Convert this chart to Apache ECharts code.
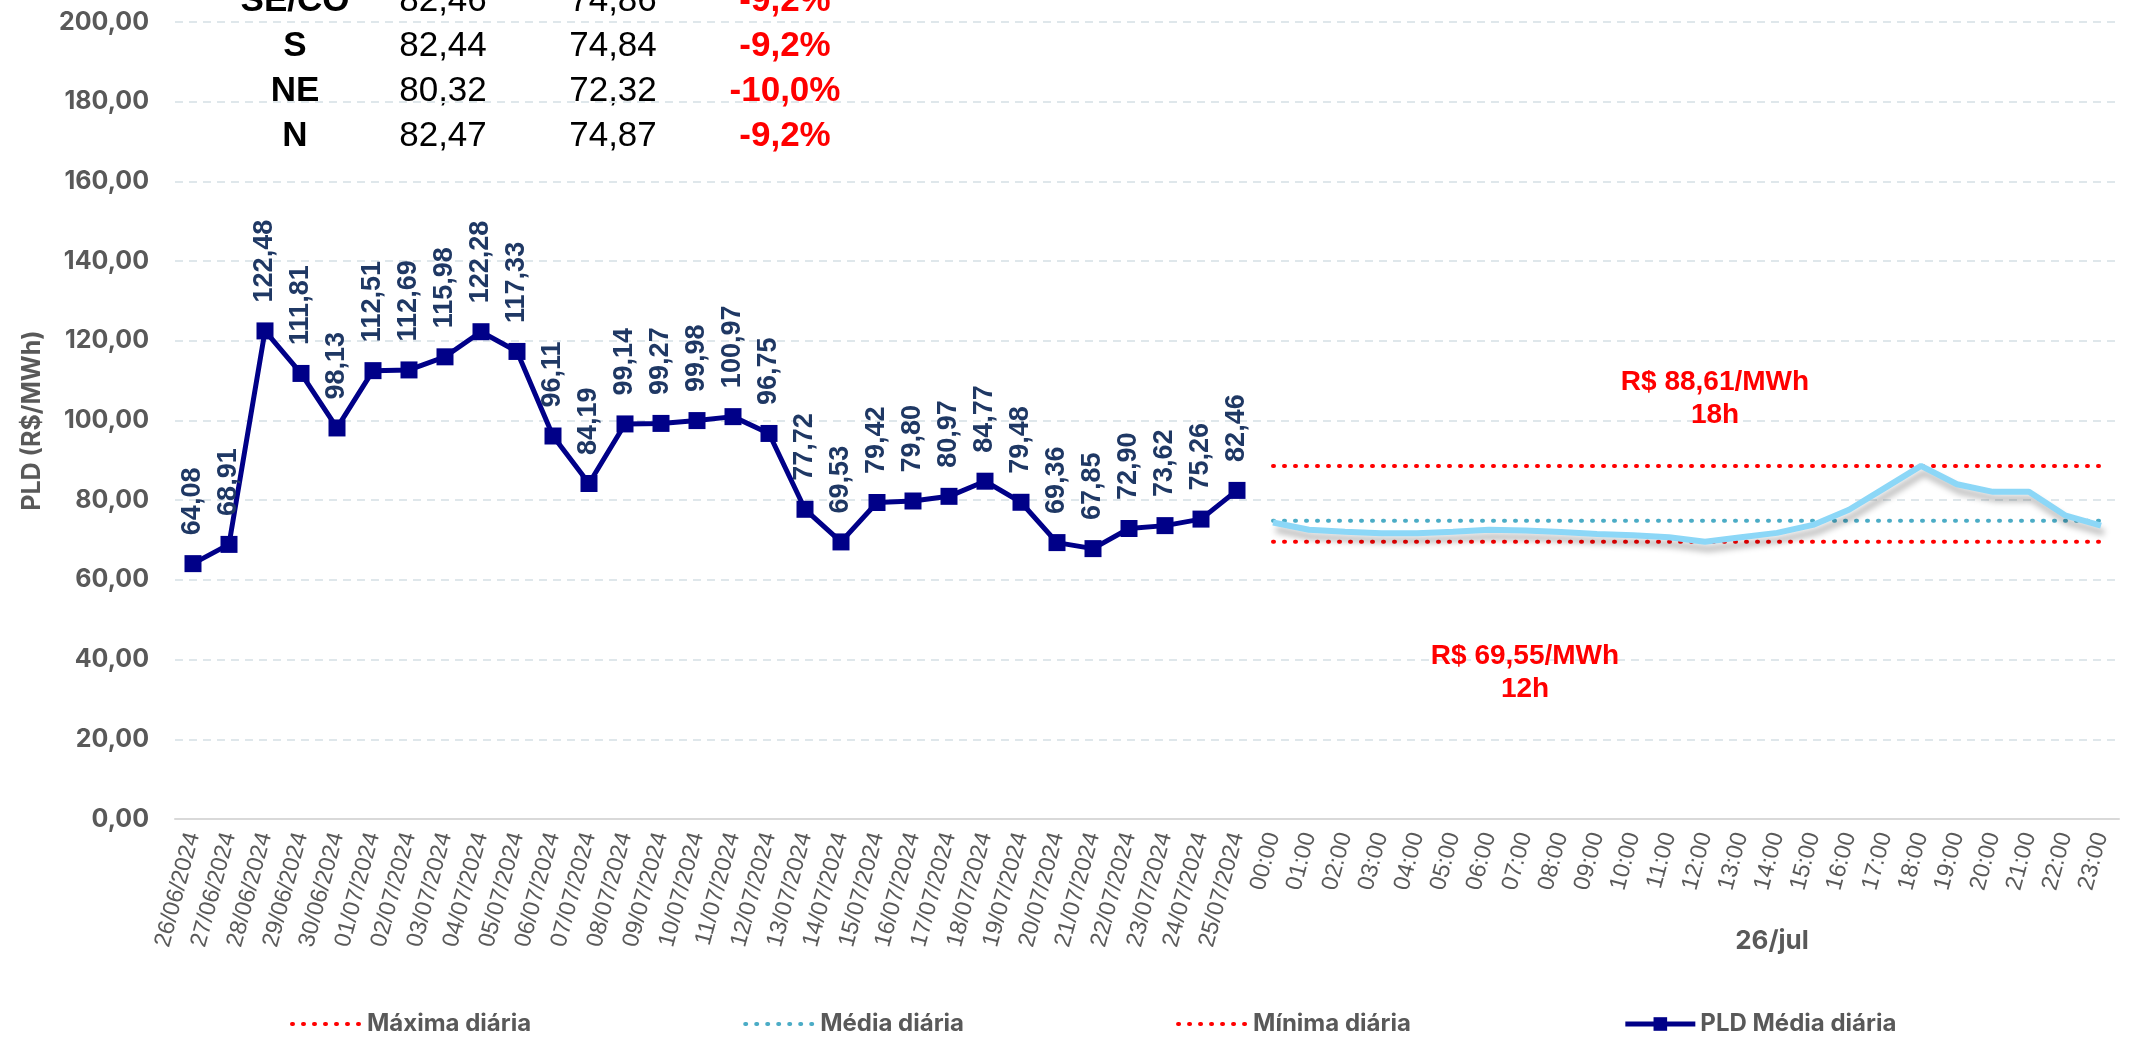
<!DOCTYPE html>
<html>
<head>
<meta charset="utf-8">
<script src="https://cdn.jsdelivr.net/npm/echarts@6/dist/echarts.min.js"></script>
<style>
  html, body { margin: 0; padding: 0; background: #fff; }
  #chart { width: 2129px; height: 1043px; }
</style>
</head>
<body>
<div id="chart"></div>
<script>
const dates = ['26/06/2024', '27/06/2024', '28/06/2024', '29/06/2024', '30/06/2024',
  '01/07/2024', '02/07/2024', '03/07/2024', '04/07/2024', '05/07/2024', '06/07/2024',
  '07/07/2024', '08/07/2024', '09/07/2024', '10/07/2024', '11/07/2024', '12/07/2024',
  '13/07/2024', '14/07/2024', '15/07/2024', '16/07/2024', '17/07/2024', '18/07/2024',
  '19/07/2024', '20/07/2024', '21/07/2024', '22/07/2024', '23/07/2024', '24/07/2024',
  '25/07/2024']
const hours = ['00:00', '01:00', '02:00', '03:00', '04:00', '05:00', '06:00', '07:00',
  '08:00', '09:00', '10:00', '11:00', '12:00', '13:00', '14:00', '15:00', '16:00',
  '17:00', '18:00', '19:00', '20:00', '21:00', '22:00', '23:00']

const pldDaily = [64.08, 68.91, 122.48, 111.81, 98.13, 112.51, 112.69, 115.98, 122.28, 117.33,
  96.11, 84.19, 99.14, 99.27, 99.98, 100.97, 96.75, 77.72, 69.53, 79.42, 79.80, 80.97,
  84.77, 79.48, 69.36, 67.85, 72.90, 73.62, 75.26, 82.46]
const pldHourly = [74.4, 72.6, 72.1, 71.7, 71.7, 72.1, 72.6, 72.4, 72.0, 71.5, 71.2, 70.7,
  69.55, 70.7, 71.8, 73.8, 77.6, 83.1, 88.61, 84.0, 82.1, 82.1, 76.2, 73.6]
const maxDaily = 88.61
const avgDaily = 74.86
const minDaily = 69.55
const maxHour = '18h'
const minHour = '12h'

// tabela de submercados (ontem / hoje / variação)
const regions = ['SE/CO', 'S', 'NE', 'N']
const prevValues = ['82,46', '82,44', '80,32', '82,47']
const currValues = ['74,86', '74,84', '72,32', '74,87']
const changes = ['-9,2%', '-9,2%', '-10,0%', '-9,2%']

const yTicks = { min: 0, max: 200, interval: 20 }

const fmt = v => v.toFixed(2).replace('.', ',')
const blanks = n => new Array(n).fill(null)
const onHours = v => blanks(dates.length).concat(hours.map(() => v))

const gray = '#595959'
const dotted = (color) => ({ color: color, width: 4, type: [1, 10], cap: 'round' })

let chart = echarts.init(document.getElementById('chart'))

let tableTexts = []
regions.forEach((r, i) => {
  const y = 1 + i * 45
  const base = { fontFamily: 'Liberation Sans, Arial', fontSize: 35, align: 'center', verticalAlign: 'middle' }
  tableTexts.push({ type: 'text', x: 295, y: y, style: Object.assign({}, base, { text: r, fontWeight: 'bold', fill: '#000' }) })
  tableTexts.push({ type: 'text', x: 443, y: y, style: Object.assign({}, base, { text: prevValues[i], fill: '#000' }) })
  tableTexts.push({ type: 'text', x: 613, y: y, style: Object.assign({}, base, { text: currValues[i], fill: '#000' }) })
  tableTexts.push({ type: 'text', x: 785, y: y, style: Object.assign({}, base, { text: changes[i], fontWeight: 'bold', fill: '#ff0000' }) })
})

let option = {
  animation: false,
  backgroundColor: '#fff',
  grid: { left: 175, right: 10, top: 22, bottom: 224 },
  legend: {
    data: ['Máxima diária', 'Média diária', 'Mínima diária', 'PLD Média diária'],
    left: 285,
    bottom: 2,
    itemWidth: 70,
    itemHeight: 17,
    itemGap: 212,
    lineStyle: { width: 'inherit' },
    textStyle: { fontFamily: 'Inter', fontSize: 24, fontWeight: 'bold', color: gray }
  },
  xAxis: {
    type: 'category',
    data: dates.concat(hours),
    axisLine: { lineStyle: { color: '#d9d9d9', width: 2 } },
    axisTick: { show: false },
    axisLabel: {
      interval: 0,
      rotate: 75,
      margin: 14,
      fontFamily: 'Liberation Sans, Arial',
      fontSize: 23.5,
      color: gray
    }
  },
  yAxis: {
    type: 'value',
    min: yTicks.min,
    max: yTicks.max,
    interval: yTicks.interval,
    name: 'PLD (R$/MWh)',
    nameLocation: 'middle',
    nameGap: 130,
    nameTextStyle: { fontFamily: 'Inter', fontSize: 25, fontWeight: 'bold', color: gray },
    axisLabel: {
      formatter: fmt,
      margin: 26,
      fontFamily: 'Inter',
      fontSize: 25,
      fontWeight: 'bold',
      color: gray
    },
    splitLine: { lineStyle: { color: '#dfe7eb', width: 2, type: [8, 6] } }
  },
  graphic: tableTexts.concat([
    {
      type: 'text', x: 1772, y: 941,
      style: { text: '26/jul', fontFamily: 'Inter', fontSize: 26, fontWeight: 'bold', fill: gray, align: 'center', verticalAlign: 'middle' }
    }
  ]),
  series: [
    {
      name: 'Máxima diária',
      type: 'line',
      data: onHours(maxDaily),
      symbol: 'none',
      itemStyle: { color: '#ff0000', opacity: 0 },
      lineStyle: dotted('#ff0000')
    },
    {
      name: 'Média diária',
      type: 'line',
      data: onHours(avgDaily),
      symbol: 'none',
      itemStyle: { color: '#4bacc6', opacity: 0 },
      lineStyle: dotted('#4bacc6')
    },
    {
      name: 'Mínima diária',
      type: 'line',
      data: onHours(minDaily),
      symbol: 'none',
      itemStyle: { color: '#ff0000', opacity: 0 },
      lineStyle: dotted('#ff0000')
    },
    {
      name: 'PLD horário',
      type: 'line',
      data: blanks(dates.length).concat(pldHourly),
      symbol: 'none',
      lineStyle: {
        color: '#8cd7f7',
        width: 6,
        shadowColor: 'rgba(0,0,0,0.28)',
        shadowBlur: 6,
        shadowOffsetX: 3,
        shadowOffsetY: 7
      },
      markPoint: {
        symbol: 'circle',
        symbolSize: 0,
        label: {
          show: true,
          position: 'inside',
          fontFamily: 'Liberation Sans, Arial',
          fontSize: 28,
          fontWeight: 'bold',
          lineHeight: 33,
          color: '#ff0000'
        },
        data: [
          { coord: ['12:00', 105.4], label: { offset: [10, 0], formatter: 'R$ ' + fmt(maxDaily) + '/MWh\n' + maxHour } },
          { coord: ['07:00', 36.7], label: { formatter: 'R$ ' + fmt(minDaily) + '/MWh\n' + minHour } }
        ]
      }
    },
    {
      name: 'PLD Média diária',
      type: 'line',
      data: pldDaily,
      symbol: 'rect',
      symbolSize: 17,
      itemStyle: { color: '#000088' },
      lineStyle: { color: '#000088', width: 5 },
      label: {
        show: true,
        position: 'top',
        rotate: 90,
        align: 'left',
        verticalAlign: 'middle',
        distance: 20,
        formatter: p => fmt(p.value),
        fontFamily: 'Liberation Sans, Arial',
        fontSize: 27,
        fontWeight: 'bold',
        color: '#1f3864'
      }
    }
  ]
}
chart.setOption(option)
</script>
</body>
</html>
